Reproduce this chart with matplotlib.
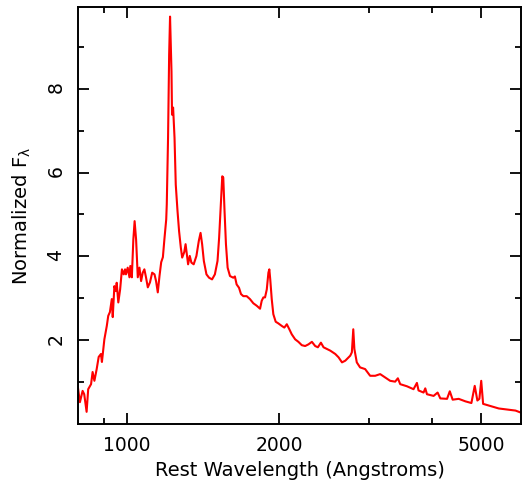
import matplotlib
matplotlib.use('Agg')
import matplotlib.pyplot as plt
from matplotlib.ticker import FixedLocator, NullFormatter

# composite spectrum (rest wavelength in Angstroms)
wave = [799, 807, 817, 823, 832, 838, 849, 855, 862, 871,
        879, 888, 892, 902, 912, 918, 925, 933, 937, 944,
        951, 954, 961, 969, 977, 985, 991, 995, 1003, 1011,
        1015, 1022, 1029, 1035, 1042, 1050, 1058, 1066, 1074, 1082,
        1090, 1099, 1110, 1121, 1133, 1141, 1150, 1159, 1168, 1177,
        1185, 1195, 1198, 1205, 1211, 1216, 1224, 1227, 1233, 1241,
        1248, 1258, 1267, 1277, 1285, 1297, 1305, 1311, 1320, 1330,
        1340, 1354, 1371, 1386, 1397, 1407, 1418, 1435, 1452, 1472,
        1491, 1509, 1520, 1532, 1542, 1549, 1558, 1568, 1580, 1597,
        1621, 1633, 1646, 1664, 1679, 1697, 1723, 1749, 1776, 1804,
        1831, 1845, 1859, 1873, 1888, 1902, 1910, 1918, 1931, 1945,
        1966, 1990, 2021, 2045, 2068, 2092, 2115, 2148, 2180, 2214,
        2248, 2282, 2318, 2353, 2382, 2415, 2444, 2482, 2520, 2578,
        2617, 2658, 2698, 2760, 2780, 2798, 2812, 2843, 2886, 2953,
        3021, 3091, 3162, 3235, 3309, 3385, 3427, 3464, 3571, 3680,
        3737, 3765, 3852, 3882, 3912, 4032, 4106, 4157, 4286, 4340,
        4397, 4519, 4659, 4788, 4861, 4920, 4965, 5007, 5050, 5181,
        5423, 5676, 5852, 6030]
flux = [0.91, 0.52, 0.79, 0.71, 0.29, 0.83, 0.95, 1.24, 1.03, 1.31,
        1.60, 1.67, 1.48, 2.02, 2.34, 2.58, 2.67, 2.98, 2.55, 3.29,
        3.17, 3.37, 2.90, 3.21, 3.69, 3.57, 3.69, 3.57, 3.73, 3.50,
        3.77, 3.50, 4.40, 4.84, 4.40, 3.50, 3.73, 3.41, 3.61, 3.69,
        3.50, 3.26, 3.38, 3.61, 3.57, 3.41, 3.14, 3.53, 3.86, 3.98,
        4.40, 4.88, 5.24, 6.83, 8.81, 9.72, 8.41, 7.38, 7.55, 6.83,
        5.71, 5.08, 4.60, 4.21, 3.97, 4.10, 4.29, 4.10, 3.81, 4.01,
        3.85, 3.81, 4.01, 4.37, 4.56, 4.29, 3.89, 3.57, 3.49, 3.45,
        3.57, 3.89, 4.44, 5.24, 5.91, 5.88, 5.08, 4.29, 3.73, 3.53,
        3.49, 3.52, 3.33, 3.25, 3.10, 3.05, 3.05, 2.98, 2.88, 2.82,
        2.75, 2.94, 3.02, 3.02, 3.21, 3.61, 3.69, 3.45, 2.98, 2.62,
        2.44, 2.40, 2.34, 2.30, 2.38, 2.26, 2.14, 2.02, 1.96, 1.88,
        1.86, 1.90, 1.96, 1.86, 1.83, 1.94, 1.83, 1.79, 1.75, 1.67,
        1.59, 1.47, 1.51, 1.63, 1.71, 2.26, 1.79, 1.47, 1.35, 1.31,
        1.15, 1.15, 1.19, 1.11, 1.03, 1.01, 1.09, 0.95, 0.90, 0.83,
        0.98, 0.80, 0.75, 0.85, 0.71, 0.67, 0.75, 0.61, 0.60, 0.78,
        0.58, 0.60, 0.54, 0.50, 0.91, 0.56, 0.60, 1.03, 0.48, 0.44,
        0.37, 0.34, 0.32, 0.26]

major_x = [1000, 2000, 5000]
minor_x = [900, 3000, 4000]
major_y = [2, 4, 6, 8]
minor_y = [1, 3, 5, 7, 9]

plt.rcParams['font.family'] = 'DejaVu Sans'

fig = plt.figure(figsize=(5.22, 4.8), dpi=100)
ax = fig.add_axes([0.1494, 0.1167, 0.8487, 0.8688])

ax.plot(wave, flux, color='red', lw=1.5)

ax.set_xscale('log')
ax.set_xlim(800, 6000)
ax.set_ylim(0, 9.95)

ax.xaxis.set_major_locator(FixedLocator(major_x))
ax.xaxis.set_minor_locator(FixedLocator(minor_x))
ax.xaxis.set_minor_formatter(NullFormatter())
ax.set_xticklabels([str(v) for v in major_x])
ax.yaxis.set_major_locator(FixedLocator(major_y))
ax.yaxis.set_minor_locator(FixedLocator(minor_y))

ax.tick_params(which='both', direction='in', top=True, right=True, width=1.3)
ax.tick_params(which='major', length=8, labelsize=13.5)
ax.tick_params(which='minor', length=4.3)
ax.tick_params(axis='y', labelrotation=90, pad=9)
ax.tick_params(axis='x', pad=9)
for s in ax.spines.values():
    s.set_linewidth(1.4)

ax.set_xlabel('Rest Wavelength (Angstroms)', fontsize=14, labelpad=4)
ax.set_ylabel(r'Normalized $\mathregular{F_\lambda}$', fontsize=14, labelpad=10)

fig.savefig('out.png', dpi=100)
